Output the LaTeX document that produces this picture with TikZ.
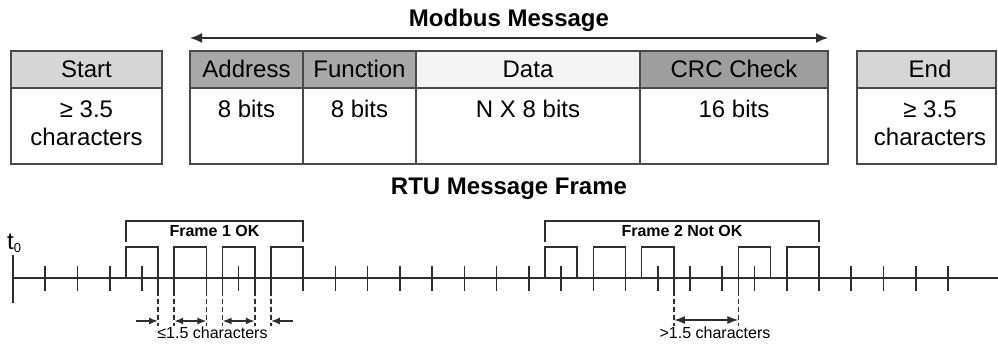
\documentclass[tikz,border=0pt]{standalone}
\usepackage{fontspec}
\setmainfont{Liberation Sans}
\usetikzlibrary{arrows.meta}
\definecolor{bordergray}{HTML}{4A4A4A}
\definecolor{startgray}{HTML}{D6D6D6}
\definecolor{fieldgray}{HTML}{A8A8A8}
\definecolor{datagray}{HTML}{F4F4F4}
\definecolor{crcgray}{HTML}{9E9E9E}
\definecolor{linegray}{HTML}{2E2E2E}
\begin{document}
\begin{tikzpicture}[x=1pt,y=-1pt,
  cell/.style={draw=bordergray, line width=1.7pt, anchor=north west, inner sep=0pt, outer sep=0pt},
  hdr/.style={cell, minimum height=37pt},
  body/.style={cell, minimum height=76pt, fill=white},
  big/.style={font=\fontsize{24}{28}\selectfont, anchor=base, inner sep=0pt},
  bigb/.style={font=\bfseries\fontsize{24}{28}\selectfont, anchor=base, inner sep=0pt},
  smallb/.style={font=\bfseries\fontsize{16}{18}\selectfont, anchor=base, inner sep=0pt},
  small/.style={font=\fontsize{16}{18}\selectfont, anchor=base, inner sep=0pt},
  tl/.style={draw=linegray, line width=1.6pt},
  gapdash/.style={tl, dash pattern=on 5pt off 3pt},
  gaparrow/.style={tl, -{Latex[length=9pt,width=7pt]}},
  gaparrows/.style={tl, {Latex[length=9pt,width=7pt]}-{Latex[length=9pt,width=7pt]}},
]
\useasboundingbox (0,0) rectangle (998,344);

% ---------- Modbus message (top) ----------
\node[bigb] (title) at (509,27) {Modbus Message};
\coordinate (ml) at (190,38);
\coordinate (mr) at (828,38);
\draw[draw=linegray, line width=1.7pt, {Latex[length=12pt,width=10pt]}-{Latex[length=12pt,width=10pt]}] (ml) -- (mr);

% Start
\node[hdr, fill=startgray, minimum width=151pt] (starth) at (11,51) {};
\node[body, minimum width=151pt] (startb) at (11,88) {};
\node[big] (tstart) at (86.5,78) {Start};
\node[big] (tstart1) at (86.5,117.5) {≥ 3.5};
\node[big] (tstart2) at (86.5,145.5) {characters};

% Address
\node[hdr, fill=fieldgray, minimum width=113pt] (addrh) at (190,51) {};
\node[body, minimum width=113pt] (addrb) at (190,88) {};
\node[big] (taddr) at (246.5,78) {Address};
\node[big] (taddr1) at (246.5,117.5) {8 bits};

% Function
\node[hdr, fill=fieldgray, minimum width=113pt] (funch) at (303,51) {};
\node[body, minimum width=113pt] (funcb) at (303,88) {};
\node[big] (tfunc) at (359.5,78) {Function};
\node[big] (tfunc1) at (359.5,117.5) {8 bits};

% Data
\node[hdr, fill=datagray, minimum width=224pt] (datah) at (416,51) {};
\node[body, minimum width=224pt] (datab) at (416,88) {};
\node[big] (tdata) at (528,78) {Data};
\node[big] (tdata1) at (528,117.5) {N X 8 bits};

% CRC
\node[hdr, fill=crcgray, minimum width=188pt] (crch) at (640,51) {};
\node[body, minimum width=188pt] (crcb) at (640,88) {};
\node[big] (tcrc) at (734,78) {CRC Check};
\node[big] (tcrc1) at (734,117.5) {16 bits};

% End
\node[hdr, fill=startgray, minimum width=139pt] (endh) at (857,51) {};
\node[body, minimum width=139pt] (endb) at (857,88) {};
\node[big] (tend) at (930,78) {End};
\node[big] (tend1) at (930,117.5) {≥ 3.5};
\node[big] (tend2) at (930,145.5) {characters};

\node[bigb] (rtu) at (509,195) {RTU Message Frame};

% ---------- Timeline ----------
\coordinate (a0) at (13,278);
\coordinate (aend) at (998,278);
\draw[tl] (a0) -- (aend);
\draw[tl] (13,255) -- (13,303);
\node[font=\fontsize{24}{28}\selectfont, anchor=base west, inner sep=0pt] (t0) at (7,250) {t\raisebox{-2.5pt}{\fontsize{13}{13}\selectfont 0}};
\foreach \k in {1,...,29} \draw[tl] ({13+32.24*\k},266) -- ({13+32.24*\k},291);

% pulses
\foreach \a/\b in {125.84/158.08, 174.2/206.44, 222.56/254.8, 270.92/303.16,
                   544.96/577.2, 593.32/625.56, 641.68/673.92, 738.4/770.64, 786.76/819.0}
  \draw[tl] (\a,278) -- (\a,247) -- (\b,247) -- (\b,278);

% pulse edges extended below the axis
\foreach \x in {158.08, 222.56, 254.8, 673.92, 738.4}
  \draw[tl] (\x,278) -- (\x,291);
\foreach \x in {158.08, 174.2, 206.44, 222.56, 254.8, 270.92, 673.92, 738.4}
  \draw[gapdash] (\x,291) -- (\x,326);

% frame brackets
\draw[tl] (125.84,242) -- (125.84,221) -- (303.16,221) -- (303.16,242);
\node[smallb] (f1) at (214.5,237) {Frame 1 OK};
\draw[tl] (544.96,242) -- (544.96,221) -- (819.0,221) -- (819.0,242);
\node[smallb] (f2) at (682,237) {Frame 2 Not OK};

% gap arrows
\coordinate (g1a) at (136,321);  \coordinate (g1b) at (158.08,321);
\coordinate (g2a) at (174.2,321); \coordinate (g2b) at (206.44,321);
\coordinate (g3a) at (222.56,321); \coordinate (g3b) at (254.8,321);
\coordinate (g4a) at (293,321);  \coordinate (g4b) at (270.92,321);
\draw[gaparrow] (g1a) -- (g1b);
\draw[gaparrows] (g2a) -- (g2b);
\draw[gaparrows] (g3a) -- (g3b);
\draw[gaparrow] (g4a) -- (g4b);
\node[small] (lt) at (212.5,338.5) {≤1.5 characters};

\coordinate (h1a) at (673.92,320); \coordinate (h1b) at (738.4,320);
\draw[tl, {Latex[length=11pt,width=8pt]}-{Latex[length=11pt,width=8pt]}] (h1a) -- (h1b);
\node[small] (gt) at (715,338.5) {>1.5 characters};
\end{tikzpicture}
\end{document}
